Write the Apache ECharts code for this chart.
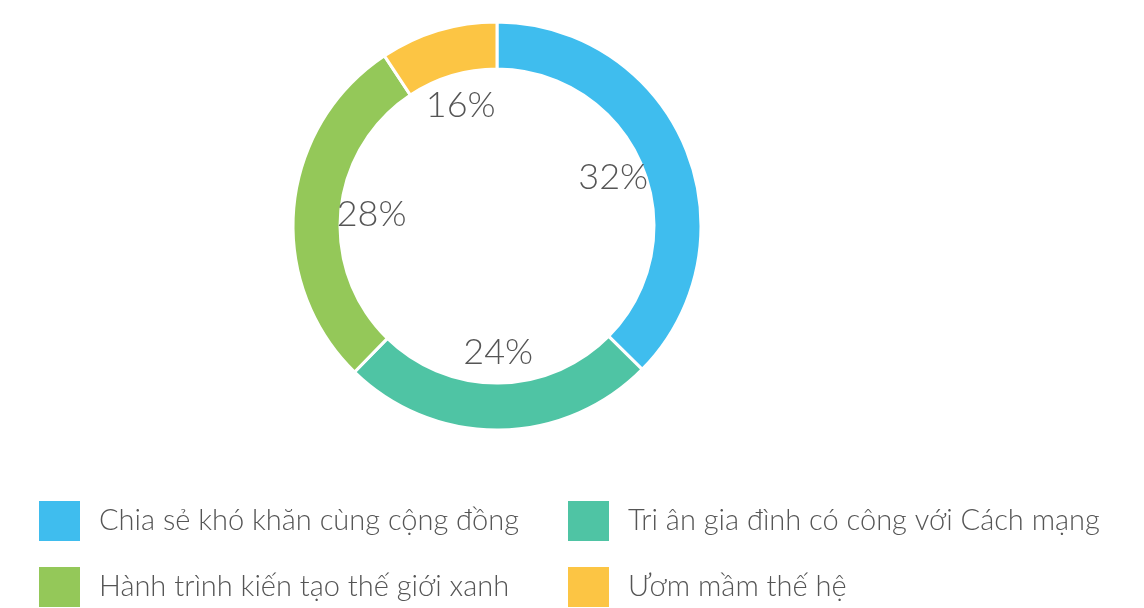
<!DOCTYPE html>
<html>
<head>
<meta charset="utf-8">
<script src="https://cdn.jsdelivr.net/npm/echarts@6/dist/echarts.min.js"></script>
<style>
html,body{margin:0;padding:0;background:#fff;}
#chart{width:1144px;height:608px;}
</style>
</head>
<body>
<div id="chart"></div>
<script>
// Data
var categories = [
  'Chia sẻ khó khăn cùng cộng đồng',
  'Tri ân gia đình có công với Cách mạng',
  'Hành trình kiến tạo thế giới xanh',
  'Ươm mầm thế hệ'
];
var sliceValues = [37.4, 24.9, 28.4, 9.3];
// percentage labels as printed on the chart
var labelTexts = ['32%', '24%', '28%', '16%'];
var colors = ['#3fbdee', '#4fc4a4', '#94c859', '#fcc544'];

var ringData = categories.map(function (c, i) {
  return { name: c, value: sliceValues[i], itemStyle: { color: colors[i] } };
});
var labelData = categories.map(function (c, i) {
  return { name: c, value: sliceValues[i], label: { formatter: labelTexts[i] } };
});

// legend slots: [category index, left, top]
var legendSlots = [[0, 37, 499], [1, 566, 499], [2, 37, 565], [3, 566, 565]];
var legendText = { color: '#555', fontSize: 29, fontFamily: 'Lato', fontWeight: 300, padding: [0, 0, 0, 13] };
var legends = legendSlots.map(function (s) {
  return {
    orient: 'horizontal', left: s[1], top: s[2], padding: 0,
    itemWidth: 43, itemHeight: 42, icon: 'rect',
    data: [categories[s[0]]], textStyle: legendText, selectedMode: false
  };
});

var chart = echarts.init(document.getElementById('chart'), null, { renderer: 'canvas' });
chart.setOption({
  backgroundColor: '#ffffff',
  animation: false,
  color: colors,
  legend: legends,
  series: [
    {
      type: 'pie',
      center: [497, 226],
      radius: [157, 204],
      startAngle: 90,
      clockwise: true,
      avoidLabelOverlap: false,
      label: { show: false },
      labelLine: { show: false },
      itemStyle: { borderColor: '#ffffff', borderWidth: 3 },
      emphasis: { disabled: true },
      data: ringData
    },
    {
      type: 'pie',
      center: [497, 226],
      radius: [92, 154],
      startAngle: 90,
      clockwise: true,
      silent: true,
      legendHoverLink: false,
      avoidLabelOverlap: false,
      itemStyle: { color: 'rgba(0,0,0,0)' },
      label: { show: true, position: 'inside', color: '#555', fontSize: 36, fontFamily: 'Lato', fontWeight: 300 },
      labelLine: { show: false },
      emphasis: { disabled: true },
      data: labelData
    }
  ]
});
</script>
</body>
</html>
